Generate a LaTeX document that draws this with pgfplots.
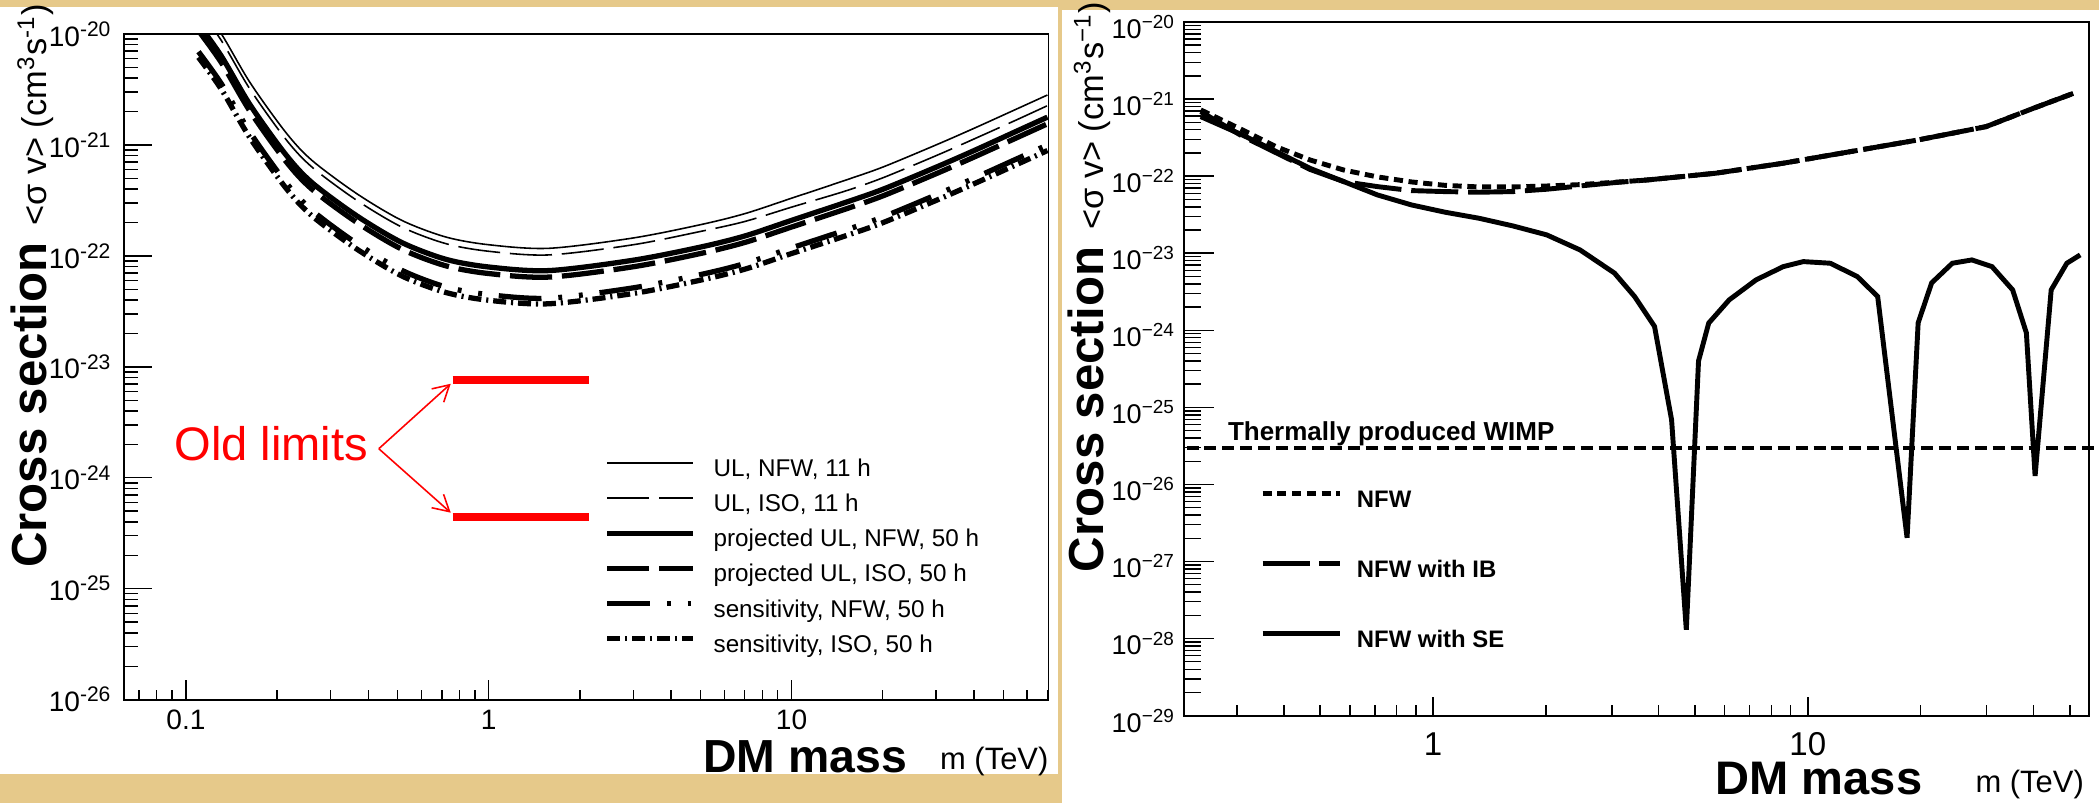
\documentclass[border=0pt]{standalone}
\usepackage{fontspec}
\setmainfont{Liberation Sans}
\usepackage{pgfplots}
\pgfplotsset{compat=1.18}
\usetikzlibrary{arrows.meta}
\definecolor{parch}{RGB}{230,201,138}
\newcommand{\fs}[1]{\fontsize{#1}{#1}\selectfont}
\begin{document}
\begin{tikzpicture}[x=0.1mm,y=0.1mm]
\fill[parch] (0,0) rectangle (2100,803);
\fill[white] (0,29) rectangle (1059,796);
\fill[white] (1063,0) rectangle (2100,793);
% ---------------- LEFT PANEL ----------------
\begin{axis}[
  at={(12.4mm,10.3mm)}, anchor=south west,
  width=92.5mm, height=66.6mm, scale only axis,
  xmode=log, ymode=log,
  xmin=0.0624, xmax=70.5, ymin=1e-26, ymax=1e-20,
  axis line style={line width=0.5pt},
  tick align=inside, tick pos=left,
  tick style={black, line width=0.4pt},
  major tick length=2.8mm, minor tick length=1.4mm,
  xtick style={/pgfplots/major tick length=2mm,/pgfplots/minor tick length=1mm},
  xtick={0.1,1,10}, xticklabels={0.1,1,10},
  minor xtick={0.07,0.08,0.09,0.2,0.3,0.4,0.5,0.6,0.7,0.8,0.9,2,3,4,5,6,7,8,9,20,30,40,50,60,70},
  ytick={1e-26,1e-25,1e-24,1e-23,1e-22,1e-21,1e-20},
  yticklabels={10\textsuperscript{-26},10\textsuperscript{-25},10\textsuperscript{-24},10\textsuperscript{-23},10\textsuperscript{-22},10\textsuperscript{-21},10\textsuperscript{-20}},
  minor ytick={2e-26,3e-26,4e-26,5e-26,6e-26,7e-26,8e-26,9e-26,
               2e-25,3e-25,4e-25,5e-25,6e-25,7e-25,8e-25,9e-25,
               2e-24,3e-24,4e-24,5e-24,6e-24,7e-24,8e-24,9e-24,
               2e-23,3e-23,4e-23,5e-23,6e-23,7e-23,8e-23,9e-23,
               2e-22,3e-22,4e-22,5e-22,6e-22,7e-22,8e-22,9e-22,
               2e-21,3e-21,4e-21,5e-21,6e-21,7e-21,8e-21,9e-21},
  yticklabel style={font=\fs{8}, inner sep=0pt, xshift=-1.1mm},
  xticklabel style={font=\fs{8}, inner sep=0pt, yshift=-1.0mm},
  legend style={at={(0.519,0.360)}, anchor=north west, draw=none, fill=none,
    inner sep=0pt, row sep=1.4mm, column sep=1.8mm, font=\fs{6.9},
    nodes={inner sep=0pt, text height=1.6mm, text depth=0.5mm}},
  legend cell align=left,
  legend image code/.code={\draw[#1] (0mm,0.8mm) -- (8.6mm,0.8mm);},
]
\addplot[black, line width=0.45pt, smooth] coordinates {
(0.11,1.95e-20) (0.131,1.00e-20) (0.163,3.63e-21) (0.214,1.29e-21) (0.261,7.24e-22)
(0.367,3.63e-22) (0.516,2.09e-22) (0.721,1.48e-22) (1.0,1.26e-22) (1.58,1.17e-22)
(3,1.45e-22) (5,1.91e-22) (7,2.40e-22) (10,3.31e-22) (15,4.79e-22) (20,6.31e-22)
(30,1.00e-21) (40,1.41e-21) (55,2.09e-21) (70,2.82e-21)};
\addlegendentry{UL, NFW, 11 h}
\addplot[black, line width=0.45pt, smooth, dash pattern=on 12pt off 2.8pt] coordinates {
(0.11,1.70e-20) (0.131,8.70e-21) (0.163,3.16e-21) (0.214,1.12e-21) (0.261,6.30e-22)
(0.367,3.16e-22) (0.516,1.82e-22) (0.721,1.29e-22) (1.0,1.10e-22) (1.58,1.02e-22)
(3,1.26e-22) (5,1.66e-22) (7,2.04e-22) (10,2.75e-22) (15,3.83e-22) (20,5.05e-22)
(30,8.00e-22) (40,1.13e-21) (55,1.67e-21) (70,2.26e-21)};
\addlegendentry{UL, ISO, 11 h}
\addplot[black, line width=1.5pt, smooth] coordinates {
(0.11,1.23e-20) (0.131,6.30e-21) (0.163,2.29e-21) (0.214,8.13e-22) (0.261,4.56e-22)
(0.367,2.29e-22) (0.516,1.32e-22) (0.721,9.32e-23) (1.0,7.94e-23) (1.58,7.37e-23)
(3,9.14e-23) (5,1.20e-22) (7,1.51e-22) (10,2.09e-22) (15,3.02e-22) (20,3.98e-22)
(30,6.30e-22) (40,8.88e-22) (55,1.32e-21) (70,1.78e-21)};
\addlegendentry{projected UL, NFW, 50 h}
\addplot[black, line width=1.5pt, smooth, dash pattern=on 12pt off 2.8pt] coordinates {
(0.11,1.07e-20) (0.131,5.50e-21) (0.163,2.00e-21) (0.214,7.10e-22) (0.261,3.98e-22)
(0.367,2.00e-22) (0.516,1.15e-22) (0.721,8.14e-23) (1.0,6.93e-23) (1.58,6.44e-23)
(3,7.98e-23) (5,1.05e-22) (7,1.32e-22) (10,1.82e-22) (15,2.63e-22) (20,3.47e-22)
(30,5.50e-22) (40,7.76e-22) (55,1.15e-21) (70,1.55e-21)};
\addlegendentry{projected UL, ISO, 50 h}
\addplot[black, line width=1.5pt, smooth, dash pattern=on 12.2pt off 4.8pt on 1.1pt off 4.8pt on 1.1pt off 4.8pt] coordinates {
(0.11,6.92e-21) (0.131,3.55e-21) (0.163,1.29e-21) (0.214,4.58e-22) (0.261,2.57e-22)
(0.367,1.29e-22) (0.516,7.42e-23) (0.721,5.25e-23) (1.0,4.47e-23) (1.58,4.15e-23)
(3,5.15e-23) (5,6.78e-23) (7,8.52e-23) (10,1.18e-22) (15,1.70e-22) (20,2.24e-22)
(30,3.55e-22) (40,5.01e-22) (55,7.42e-22) (70,1.00e-21)};
\addlegendentry{sensitivity, NFW, 50 h}
\addplot[black, line width=1.5pt, smooth, dash pattern=on 3.7pt off 1.4pt on 0.6pt off 1.4pt] coordinates {
(0.11,6.16e-21) (0.131,3.16e-21) (0.163,1.15e-21) (0.214,4.08e-22) (0.261,2.29e-22)
(0.367,1.15e-22) (0.516,6.60e-23) (0.721,4.68e-23) (1.0,3.98e-23) (1.58,3.70e-23)
(3,4.58e-23) (5,6.04e-23) (7,7.58e-23) (10,1.05e-22) (15,1.51e-22) (20,1.99e-22)
(30,3.16e-22) (40,4.46e-22) (55,6.60e-22) (70,8.91e-22)};
\addlegendentry{sensitivity, ISO, 50 h}
\addplot[red, line width=2.3pt, forget plot] coordinates {(0.76,7.64e-24) (2.15,7.64e-24)};
\addplot[red, line width=2.3pt, forget plot] coordinates {(0.76,4.46e-25) (2.15,4.46e-25)};
\end{axis}
\draw[red, line width=0.45pt, -{Straight Barb[length=1.6mm,width=1.8mm]}] (379,354) -- (451,419);
\draw[red, line width=0.45pt, -{Straight Barb[length=1.6mm,width=1.8mm]}] (379,354) -- (451,290);
\node[anchor=base west, inner sep=0pt, text=red, font=\fs{13.4}] at (174,342) {Old limits};
\node[rotate=90, anchor=base, inner sep=0pt] at (47,517)
  {{\bfseries\fs{14}Cross section}\hspace{1.7mm}{\fs{9.8}<σ v> (cm\textsuperscript{3}s\textsuperscript{-1})}};
\node[anchor=base west, inner sep=0pt, font=\bfseries\fs{13.2}] at (703,30) {DM mass};
\node[anchor=base west, inner sep=0pt, font=\fs{8.8}] at (940,33) {m (TeV)};
% ---------------- RIGHT PANEL ----------------
\begin{axis}[
  at={(118.5mm,8.7mm)}, anchor=south west,
  width=90.5mm, height=69.4mm, scale only axis, clip=false,
  xmode=log, ymode=log,
  xmin=0.217, xmax=56.2, ymin=1e-29, ymax=1e-20,
  axis line style={line width=0.55pt},
  tick align=inside, tick pos=left,
  tick style={black, line width=0.4pt},
  major tick length=3mm, minor tick length=1.7mm,
  xtick style={/pgfplots/major tick length=1.9mm,/pgfplots/minor tick length=1.1mm},
  xtick={1,10}, xticklabels={1,10},
  minor xtick={0.3,0.4,0.5,0.6,0.7,0.8,0.9,2,3,4,5,6,7,8,9,20,30,40,50},
  ytick={1e-29,1e-28,1e-27,1e-26,1e-25,1e-24,1e-23,1e-22,1e-21,1e-20},
  yticklabels={10\textsuperscript{−29},10\textsuperscript{−28},10\textsuperscript{−27},10\textsuperscript{−26},10\textsuperscript{−25},10\textsuperscript{−24},10\textsuperscript{−23},10\textsuperscript{−22},10\textsuperscript{−21},10\textsuperscript{−20}},
  minor ytick={2e-29,3e-29,4e-29,5e-29,6e-29,7e-29,8e-29,9e-29,
               2e-28,3e-28,4e-28,5e-28,6e-28,7e-28,8e-28,9e-28,
               2e-27,3e-27,4e-27,5e-27,6e-27,7e-27,8e-27,9e-27,
               2e-26,3e-26,4e-26,5e-26,6e-26,7e-26,8e-26,9e-26,
               2e-25,3e-25,4e-25,5e-25,6e-25,7e-25,8e-25,9e-25,
               2e-24,3e-24,4e-24,5e-24,6e-24,7e-24,8e-24,9e-24,
               2e-23,3e-23,4e-23,5e-23,6e-23,7e-23,8e-23,9e-23,
               2e-22,3e-22,4e-22,5e-22,6e-22,7e-22,8e-22,9e-22,
               2e-21,3e-21,4e-21,5e-21,6e-21,7e-21,8e-21,9e-21},
  yticklabel style={font=\fs{7.7}, inner sep=0pt, xshift=-0.8mm, yshift=-0.5mm},
  xticklabel style={font=\fs{9.4}, inner sep=0pt, yshift=-1.6mm},
  legend style={at={(0.083,0.326)}, anchor=north west, draw=none, fill=none,
    inner sep=0pt, row sep=4.8mm, column sep=1.5mm, font=\bfseries\fs{6.8},
    nodes={inner sep=0pt, text height=1.7mm, text depth=0.5mm}},
  legend cell align=left,
  legend image code/.code={\draw[#1] (0mm,0.8mm) -- (7.7mm,0.8mm);},
]
\addplot[black, line width=1.4pt, dash pattern=on 2.6pt off 1.6pt] coordinates {
(0.24,7.23e-22) (0.310,3.98e-22) (0.382,2.40e-22) (0.470,1.62e-22) (0.578,1.20e-22)
(0.711,9.77e-23) (0.876,8.41e-23) (1.078,7.59e-23) (1.327,7.24e-23) (1.633,7.24e-23)
(2.01,7.45e-23) (2.47,7.76e-23) (3.05,8.32e-23) (3.74,8.93e-23) (5.67,1.09e-22)
(8.59,1.47e-22) (13.0,2.08e-22) (19.7,2.95e-22) (29.9,4.39e-22) (40,7.6e-22) (51.2,1.19e-21)};
\addlegendentry{NFW}
\addplot[black, line width=1.4pt, dash pattern=on 13.4pt off 2.8pt] coordinates {
(0.24,6.87e-22) (0.310,3.30e-22) (0.382,2.00e-22) (0.470,1.22e-22) (0.578,8.49e-23)
(0.711,7.31e-23) (0.876,6.49e-23) (1.078,6.30e-23) (1.327,6.18e-23) (1.633,6.30e-23)
(2.01,6.76e-23) (2.47,7.46e-23) (3.05,8.24e-23) (3.74,8.93e-23) (5.67,1.09e-22)
(8.59,1.47e-22) (13.0,2.08e-22) (19.7,2.95e-22) (29.9,4.39e-22) (40,7.6e-22) (51.2,1.19e-21)};
\addlegendentry{NFW with IB}
\addplot[black, line width=1.4pt] coordinates {
(0.24,5.92e-22) (0.310,3.42e-22) (0.382,2.08e-22) (0.470,1.26e-22) (0.578,8.49e-23)
(0.711,5.70e-23) (0.876,4.23e-23) (1.078,3.40e-23) (1.327,2.84e-23) (1.633,2.26e-23)
(2.01,1.73e-23) (2.47,1.10e-23) (3.05,5.51e-24) (3.45,2.74e-24) (3.90,1.12e-24)
(4.33,6.9e-26) (4.74,1.30e-28) (5.11,4.0e-25) (5.44,1.24e-24) (6.17,2.48e-24)
(7.28,4.51e-24) (8.60,6.70e-24) (9.73,7.78e-24) (11.48,7.41e-24) (13.55,4.98e-24)
(15.36,2.74e-24) (18.4,2.03e-27) (19.7,1.25e-24) (21.4,4.12e-24) (24.3,7.41e-24)
(27.4,8.18e-24) (31.0,6.70e-24) (35.2,3.34e-24) (38.3,9.25e-25) (40.4,1.29e-26)
(44.6,3.34e-24) (49.1,7.41e-24) (53.3,9.5e-24)};
\addlegendentry{NFW with SE}
\addplot[black, line width=1.1pt, dash pattern=on 3.4pt off 1.7pt, forget plot] coordinates {(0.22,3e-26) (59.5,3e-26)};
\end{axis}
\node[anchor=base west, inner sep=0pt, font=\bfseries\fs{7.4}] at (1228,362) {Thermally produced WIMP};
\node[rotate=90, anchor=base, inner sep=0pt] at (1104,516)
  {{\bfseries\fs{14}Cross section}\hspace{1.7mm}{\fs{9.8}<σ v> (cm\textsuperscript{3}s\textsuperscript{−1})}};
\node[anchor=base west, inner sep=0pt, font=\bfseries\fs{13.4}] at (1716,8) {DM mass};
\node[anchor=base west, inner sep=0pt, font=\fs{8.8}] at (1976,10) {m (TeV)};
\end{tikzpicture}
\end{document}
